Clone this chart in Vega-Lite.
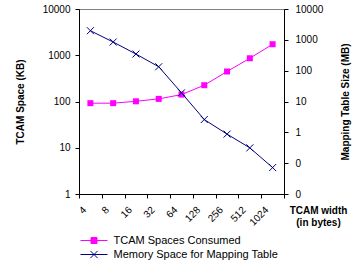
{
  "$schema": "https://vega.github.io/schema/vega-lite/v6.json",
  "width": 205,
  "height": 185,
  "autosize": "none",
  "padding": {"left": 79, "top": 9, "right": 74, "bottom": 66},
  "background": "white",
  "config": {
    "font": "Liberation Sans",
    "view": {"stroke": "#808080", "strokeWidth": 1},
    "axis": {
      "domainColor": "black", "tickColor": "black", "labelColor": "black", "titleColor": "black",
      "labelFont": "Liberation Sans", "titleFont": "Liberation Sans",
      "labelFontSize": 10, "titleFontSize": 10, "titleFontWeight": "bold",
      "grid": false, "tickSize": 4
    },
    "legend": {"labelFont": "Liberation Sans", "labelFontSize": 11, "labelColor": "black", "labelLimit": 0}
  },
  "data": {
    "values": [
      {"width": 4, "tcam": 92, "mem": 1977},
      {"width": 8, "tcam": 92, "mem": 849},
      {"width": 16, "tcam": 101, "mem": 346},
      {"width": 32, "tcam": 114, "mem": 134},
      {"width": 64, "tcam": 141, "mem": 19.1},
      {"width": 128, "tcam": 225, "mem": 2.6},
      {"width": 256, "tcam": 445, "mem": 0.875},
      {"width": 512, "tcam": 861, "mem": 0.314},
      {"width": 1024, "tcam": 1730, "mem": 0.072}
    ]
  },
  "encoding": {
    "x": {
      "field": "width", "type": "ordinal",
      "scale": {"type": "band", "paddingInner": 0, "paddingOuter": 0},
      "axis": {
        "title": ["TCAM width", "(in bytes)"],
        "titleX": 239, "titleY": 19.5, "titleAlign": "center", "titleBaseline": "alphabetic",
        "titleLineHeight": 12, "titleAnchor": null,
        "labelAngle": -45, "labelAlign": "right", "labelBaseline": "middle",
        "labelPadding": 10, "labelOffset": -6, "tickBand": "extent"
      }
    }
  },
  "layer": [
    {
      "encoding": {
        "y": {
          "field": "tcam", "type": "quantitative",
          "scale": {"type": "log", "domain": [1, 10000]},
          "axis": {
            "title": "TCAM Space (KB)", "values": [1, 10, 100, 1000, 10000], "format": "d",
            "labelPadding": 5, "titleAngle": -90, "titleX": -59, "titleY": 92.5,
            "titleBaseline": "middle", "titleAlign": "center"
          }
        }
      },
      "layer": [
        {
          "mark": {"type": "line", "stroke": "#ff00ff", "strokeWidth": 1},
          "encoding": {
            "color": {
              "datum": "TCAM Spaces Consumed", "type": "nominal",
              "scale": {"domain": ["TCAM Spaces Consumed", "Memory Space for Mapping Table"], "range": ["#ff00ff", "#000080"]},
              "legend": {
                "title": null, "orient": "none", "legendX": 9.5, "legendY": 226,
                "symbolSize": 64, "labelOffset": 14, "rowPadding": 2, "labelLimit": 0,
                "encode": {
                  "symbols": {
                    "update": {
                      "shape": {"signal": "datum.value === 'TCAM Spaces Consumed' ? 'M-3.375,0L3.375,0M-0.75,-0.75L0.75,-0.75L0.75,0.75L-0.75,0.75Z' : 'M-3.375,0L3.375,0M-0.9,-0.9L0.9,0.9M-0.9,0.9L0.9,-0.9'"},
                      "fill": {"signal": "datum.value === 'TCAM Spaces Consumed' ? '#ff00ff' : 'transparent'"},
                      "stroke": {"signal": "datum.value === 'TCAM Spaces Consumed' ? '#ff00ff' : '#000080'"},
                      "strokeWidth": {"value": 1}
                    }
                  }
                }
              }
            }
          }
        },
        {
          "mark": {"type": "point", "shape": "square", "filled": true, "color": "#ff00ff", "size": 36, "opacity": 1}
        }
      ]
    },
    {
      "encoding": {
        "y": {
          "field": "mem", "type": "quantitative",
          "scale": {"type": "log", "domain": [0.01, 10000]},
          "axis": {
            "orient": "right",
            "title": "Mapping Table Size (MB)", "values": [0.01, 0.1, 1, 10, 100, 1000, 10000], "format": "d",
            "labelPadding": 7, "titleAngle": -90, "titleX": 61, "titleY": 92.5,
            "titleBaseline": "middle", "titleAlign": "center"
          }
        }
      },
      "layer": [
        {
          "mark": {"type": "line", "stroke": "#000080", "strokeWidth": 1},
          "encoding": {}
        },
        {
          "mark": {"type": "point", "shape": "M-1,-1L1,1M-1,1L1,-1", "filled": false, "color": "#000080", "size": 49, "strokeWidth": 1, "opacity": 1}
        }
      ]
    }
  ],
  "resolve": {"scale": {"y": "independent"}}
}
